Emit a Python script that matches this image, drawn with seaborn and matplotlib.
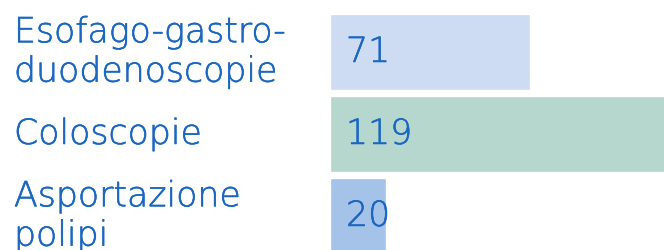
import matplotlib
matplotlib.use("Agg")
import matplotlib.pyplot as plt
import matplotlib.transforms as mtransforms
import matplotlib.patheffects as pe
import seaborn as sns

# data
categories = ["Esofago-gastro-\nduodenoscopie", "Coloscopie", "Asportazione\npolipi"]
values = [71, 119, 20]
bar_colors = ["#cddcf2", "#b5d7cd", "#a5c3e8"]
text_color = "#1a66c2"

sns.set_style("white")
plt.rcParams['font.family'] = ['DejaVu Sans']

fig = plt.figure(figsize=(6.64, 2.5), dpi=100)
ax = fig.add_axes([330 / 664, 0, 334 / 664, 1])

sns.barplot(x=values, y=categories, hue=categories, palette=bar_colors,
            saturation=1, legend=False, orient="h", width=0.93, ax=ax)

ax.set_xlim(0, 118.5)
ax.set_ylim(2.415, -0.634)
sns.despine(ax=ax, left=True, bottom=True)
ax.set_xticks([])
ax.set_yticks([])
ax.set_xlabel("")
ax.set_ylabel("")

# a bit heavier than ExtraLight
thicker = [pe.withStroke(linewidth=0.4, foreground=text_color)]

# category labels on the left
trans = mtransforms.blended_transform_factory(fig.transFigure, ax.transData)
for i, lab in enumerate(categories):
    ax.text(14 / 664, i, lab, transform=trans, ha="left", va="center",
            fontsize=25, fontweight="light", color=text_color,
            linespacing=1.2, clip_on=False, path_effects=thicker)

# value labels inside bars
off = mtransforms.offset_copy(ax.transData, fig=fig, x=16, y=0, units="dots")
for i, v in enumerate(values):
    ax.text(0, i, str(v), transform=off, ha="left", va="center",
            fontsize=25, fontweight="light", color=text_color,
            path_effects=thicker)

fig.savefig("out.png", dpi=100)
